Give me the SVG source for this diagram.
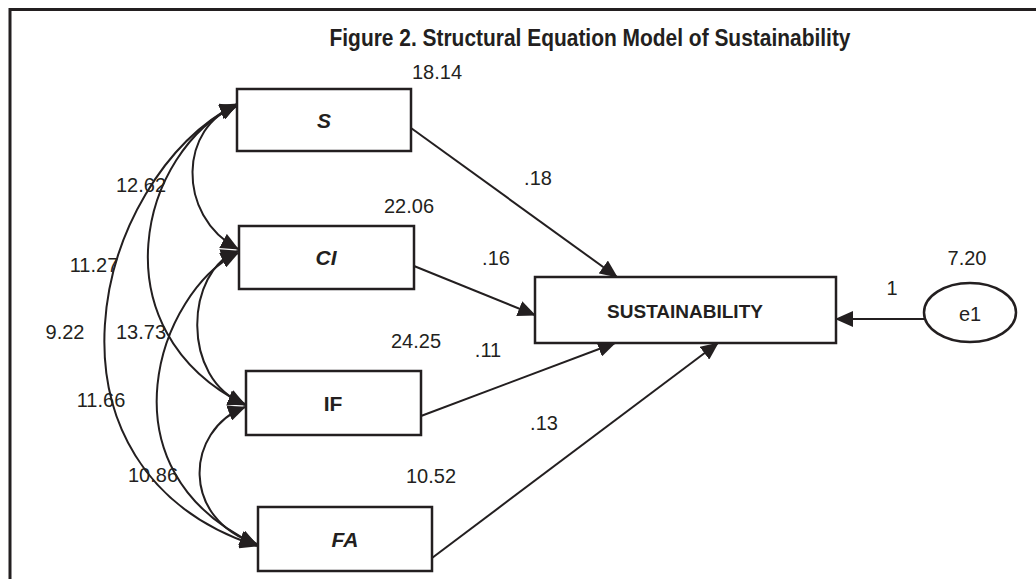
<svg xmlns="http://www.w3.org/2000/svg" width="1036" height="579" viewBox="0 0 1036 579">
  <style>
    .frame { fill: none; stroke: #231f20; stroke-width: 3; }
    .box { fill: #ffffff; stroke: #231f20; stroke-width: 2.5; }
    .link { fill: none; stroke: #231f20; stroke-width: 2; }
    .lbl { font-family: "Liberation Sans", Arial, sans-serif; font-size: 20px; fill: #231f20; text-anchor: middle; }
    .name { font-family: "Liberation Sans", Arial, sans-serif; font-size: 21px; font-weight: bold; fill: #231f20; text-anchor: middle; }
    .it { font-style: italic; }
    .title { font-family: "Liberation Sans", Arial, sans-serif; font-size: 23px; font-weight: bold; fill: #231f20; text-anchor: middle; }
  </style>
  <defs>
    <marker id="ah" viewBox="0 0 18 16" markerWidth="18" markerHeight="16" refX="17" refY="8" orient="auto-start-reverse" markerUnits="userSpaceOnUse">
      <path d="M0,0 L18,8 L0,16 z" fill="#231f20"/>
    </marker>
  </defs>

  <rect width="1036" height="579" fill="#ffffff"/>
  <path class="frame" d="M10,579 V9.5 H1036"/>

  <text class="title" x="590" y="46" textLength="521" lengthAdjust="spacingAndGlyphs">Figure 2. Structural Equation Model of  Sustainability</text>

  <!-- connectors: covariances (double-headed) and regression paths -->
  <g id="connectors">
    <path class="link" marker-start="url(#ah)" marker-end="url(#ah)" d="M237,106 C180,125 175,215 238,249"/>
    <path class="link" marker-start="url(#ah)" marker-end="url(#ah)" d="M237,105 C140,150 95,330 245,405"/>
    <path class="link" marker-start="url(#ah)" marker-end="url(#ah)" d="M237,104 C90,180 25,470 257,546"/>
    <path class="link" marker-start="url(#ah)" marker-end="url(#ah)" d="M238,251 C185,270 180,380 245,404"/>
    <path class="link" marker-start="url(#ah)" marker-end="url(#ah)" d="M238,253 C160,290 95,470 257,545"/>
    <path class="link" marker-start="url(#ah)" marker-end="url(#ah)" d="M245,407 C185,430 180,520 257,544"/>

    <path class="link" marker-end="url(#ah)" d="M411,128 L617,277"/>
    <path class="link" marker-end="url(#ah)" d="M414,266 L535,315"/>
    <path class="link" marker-end="url(#ah)" d="M421,416 L615,343"/>
    <path class="link" marker-end="url(#ah)" d="M432,558 L718,343"/>
    <path class="link" marker-end="url(#ah)" d="M924,319 L836,319"/>
  </g>

  <g id="node-S">
    <rect class="box" x="237" y="89" width="174" height="62"/>
    <text class="name it" x="324" y="128">S</text>
    <text class="lbl" x="437" y="79">18.14</text>
  </g>
  <g id="node-CI">
    <rect class="box" x="239" y="226" width="175" height="63"/>
    <text class="name it" x="326" y="265">CI</text>
    <text class="lbl" x="409" y="213">22.06</text>
  </g>
  <g id="node-IF">
    <rect class="box" x="246" y="371" width="175" height="64"/>
    <text class="name" x="333" y="411">IF</text>
    <text class="lbl" x="416" y="348">24.25</text>
  </g>
  <g id="node-FA">
    <rect class="box" x="258" y="507" width="174" height="64"/>
    <text class="name it" x="345" y="547">FA</text>
    <text class="lbl" x="431" y="483">10.52</text>
  </g>
  <g id="node-SUSTAINABILITY">
    <rect class="box" x="535" y="277" width="301" height="66"/>
    <text class="name" x="685" y="318" style="font-size:19px">SUSTAINABILITY</text>
  </g>
  <g id="node-e1">
    <ellipse class="box" cx="970" cy="312.5" rx="46" ry="29.5"/>
    <text class="lbl" x="970" y="321">e1</text>
    <text class="lbl" x="967" y="265">7.20</text>
  </g>

  <g id="edge-labels">
    <text class="lbl" x="538" y="185">.18</text>
    <text class="lbl" x="496" y="265">.16</text>
    <text class="lbl" x="488" y="357">.11</text>
    <text class="lbl" x="544" y="430">.13</text>
    <text class="lbl" x="892" y="295">1</text>
    <text class="lbl" x="141" y="192">12.62</text>
    <text class="lbl" x="94" y="272">11.27</text>
    <text class="lbl" x="65" y="339">9.22</text>
    <text class="lbl" x="141" y="339">13.73</text>
    <text class="lbl" x="101" y="407">11.66</text>
    <text class="lbl" x="153" y="482">10.86</text>
  </g>
</svg>
